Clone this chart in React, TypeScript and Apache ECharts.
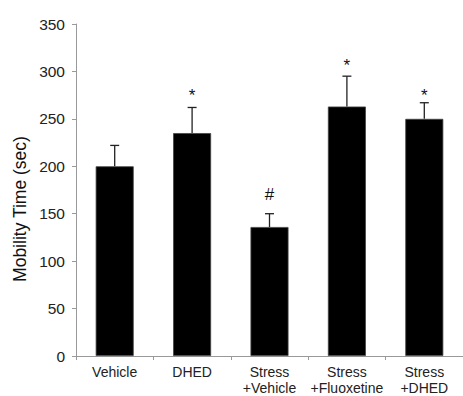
import React, { useEffect, useRef } from "react";
import * as echarts from "echarts";

const categories = ["Vehicle", "DHED", "Stress\n+Vehicle", "Stress\n+Fluoxetine", "Stress\n+DHED"];
const meanValues = [200, 235, 136, 263, 250];
const upperValues = [222, 262, 150, 295, 267];
const markers = ["", "*", "#", "*", "*"];
const markerHeights = [0, 275, 170, 306, 275];
const yTitle = "Mobility Time (sec)";

const FONT = "'Liberation Sans', Arial, sans-serif";

export default function App() {
  const ref = useRef<HTMLDivElement>(null);
  useEffect(() => {
    if (!ref.current) return;
    const chart = echarts.init(ref.current, undefined, { renderer: "svg" });
    const errData = categories.map((_, i) => [i, meanValues[i], upperValues[i]]);
    const markData = categories
      .map((_, i) => [i, markerHeights[i], markers[i]])
      .filter((d) => d[2] !== "");
    chart.setOption({
      animation: false,
      backgroundColor: "#fff",
      grid: { left: 76, top: 24, width: 388, height: 336 },
      xAxis: {
        type: "category",
        data: categories,
        axisLine: { lineStyle: { color: "#999", width: 1 } },
        axisTick: { show: true, length: 4, lineStyle: { color: "#999" } },
        axisLabel: {
          color: "#222",
          fontFamily: FONT,
          fontSize: 14,
          lineHeight: 16,
          margin: 8,
          interval: 0,
        },
      },
      yAxis: {
        type: "value",
        min: 0,
        max: 350,
        interval: 50,
        splitLine: { show: false },
        axisLine: { show: true, lineStyle: { color: "#999", width: 1 } },
        axisTick: { show: true, length: 4, lineStyle: { color: "#999" } },
        axisLabel: { color: "#222", fontFamily: FONT, fontSize: 15.5, margin: 11 },
      },
      graphic: [
        {
          type: "text",
          x: 20,
          y: 209,
          rotation: Math.PI / 2,
          style: {
            text: yTitle,
            fill: "#111",
            font: `17.5px ${FONT}`,
            align: "center",
            verticalAlign: "middle",
          },
        },
      ],
      series: [
        {
          type: "bar",
          data: meanValues,
          barWidth: 38,
          itemStyle: { color: "#000", borderColor: "#444", borderWidth: 0.8 },
        },
        {
          type: "custom",
          data: errData,
          z: 3,
          renderItem: (params: any, api: any) => {
            const idx = api.value(0);
            const top = api.coord([idx, api.value(1)]);
            const up = api.coord([idx, api.value(2)]);
            const style = { stroke: "#222", lineWidth: 1.3 };
            return {
              type: "group",
              children: [
                { type: "line", shape: { x1: top[0], y1: top[1], x2: up[0], y2: up[1] }, style },
                { type: "line", shape: { x1: up[0] - 4.5, y1: up[1], x2: up[0] + 4.5, y2: up[1] }, style },
              ],
            };
          },
        },
        {
          type: "custom",
          data: markData,
          z: 4,
          renderItem: (params: any, api: any) => {
            const d = markData[params.dataIndex];
            const p = api.coord([d[0], d[1]]);
            return {
              type: "text",
              style: {
                text: d[2],
                x: p[0],
                y: p[1],
                fill: "#111",
                font: `17px ${FONT}`,
                align: "center",
                verticalAlign: "middle",
              },
            };
          },
        },
      ],
    });
    return () => chart.dispose();
  }, []);
  return (
    <div
      ref={ref}
      style={{ position: "absolute", left: 0, top: 0, width: 463, height: 396, background: "#fff" }}
    />
  );
}
